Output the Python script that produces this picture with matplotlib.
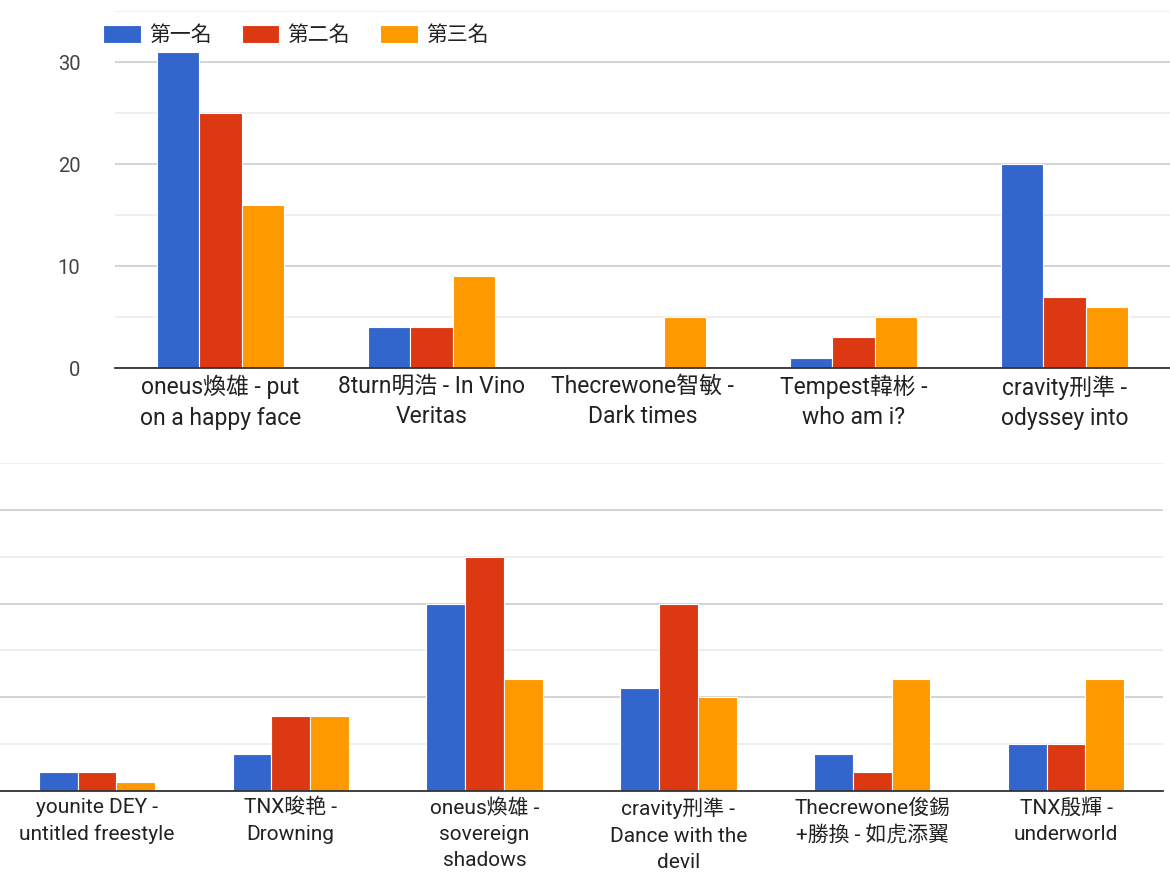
import numpy as np
import matplotlib
matplotlib.use("Agg")
import matplotlib.pyplot as plt

plt.rcParams['font.family'] = ['Roboto', 'Noto Sans CJK TC', 'DejaVu Sans']

series = ['第一名', '第二名', '第三名']
colors = ['#3366CC', '#DC3912', '#FF9900']

# top chart
top_labels = ['oneus煥雄 - put\non a happy face', '8turn明浩 - In Vino\nVeritas',
              'Thecrewone智敏 -\nDark times', 'Tempest韓彬 -\nwho am i?',
              'cravity刑準 -\nodyssey into']
top_first = [31, 4, 0, 1, 20]
top_second = [25, 4, 0, 3, 7]
top_third = [16, 9, 5, 5, 6]

# bottom chart
bot_labels = ['younite DEY -\nuntitled freestyle', 'TNX晙艳 -\nDrowning',
              'oneus煥雄 -\nsovereign\nshadows', 'cravity刑準 -\nDance with the\ndevil',
              'Thecrewone俊錫\n+勝換 - 如虎添翼', 'TNX殷輝 -\nunderworld']
bot_first = [2, 4, 20, 11, 4, 5]
bot_second = [2, 8, 25, 20, 2, 5]
bot_third = [1, 8, 12, 10, 12, 12]

W, H = 1170, 876
fig = plt.figure(figsize=(W / 100, H / 100), dpi=100)


def draw(ax, labels, vals, fs, ls, show_y):
    x = np.arange(len(labels))
    w = 0.2
    for i, v in enumerate(vals):
        ax.bar(x + (i - 1) * w, v, w, color=colors[i], edgecolor='white',
               linewidth=0.8, label=series[i], zorder=3)
    ax.set_xlim(-0.5, len(labels) - 0.5)
    ax.set_ylim(0, 35)
    ax.set_yticks([0, 10, 20, 30])
    ax.set_yticks([5, 15, 25, 35], minor=True)
    ax.grid(axis='y', which='major', color='#cccccc', linewidth=1.2, zorder=0)
    ax.grid(axis='y', which='minor', color='#ebebeb', linewidth=1.2, zorder=0)
    for s in ['top', 'right', 'left']:
        ax.spines[s].set_visible(False)
    ax.spines['bottom'].set_color('#333333')
    ax.spines['bottom'].set_linewidth(1.3)
    ax.spines['bottom'].set_zorder(4)
    ax.set_xticks(x)
    ax.set_xticklabels(labels, fontsize=fs, color='#222222', linespacing=ls)
    ax.tick_params(axis='x', length=0, pad=5)
    ax.tick_params(axis='y', which='both', length=0)
    if show_y:
        ax.tick_params(axis='y', labelsize=14.5, labelcolor='#444444', pad=25)
    else:
        ax.set_yticklabels([])


ax1 = fig.add_axes([115 / W, 1 - 368 / H, 1055 / W, 357 / H])
draw(ax1, top_labels, [top_first, top_second, top_third], 16.5, 1.4, True)

ax2 = fig.add_axes([0, 1 - 791 / H, 1163 / W, 328 / H])
draw(ax2, bot_labels, [bot_first, bot_second, bot_third], 15, 1.47, False)

ax1.legend(loc='center left', bbox_to_anchor=(103 / W, 1 - 35 / H),
           bbox_transform=fig.transFigure, ncol=3, frameon=False,
           borderpad=0, borderaxespad=0, fontsize=15, handlelength=1.8,
           handleheight=0.95, handletextpad=0.4, columnspacing=1.45,
           labelcolor='#222222')

fig.savefig('out.png', dpi=100, facecolor='white')
